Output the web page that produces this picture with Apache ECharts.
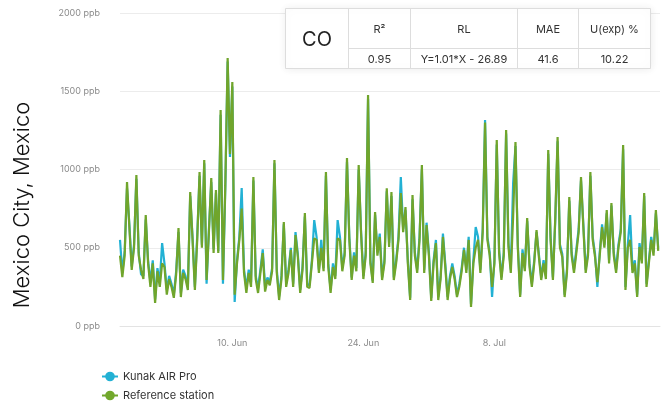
<!DOCTYPE html>
<html>
<head>
<meta charset="utf-8">
<script src="https://cdn.jsdelivr.net/npm/echarts@6/dist/echarts.min.js"></script>
<style>
html,body{margin:0;padding:0;background:#fff;}
#chart{width:663px;height:405px;}
</style>
</head>
<body>
<div id="chart"></div>
<script>
// ---- data ----
const startDate = Date.UTC(2023, 4, 29); // 29 May, first sample
const stepHours = 6;
const xTickDates = ['2023-06-10', '2023-06-24', '2023-07-08'];
const monthNames = ['Jan','Feb','Mar','Apr','May','Jun','Jul','Aug','Sep','Oct','Nov','Dec'];
const yTicks = [0, 500, 1000, 1500, 2000];
const seriesNames = ['Kunak AIR Pro', 'Reference station'];

const kunak = [
550,340,480,880,650,380,520,940,470,330,
320,680,420,280,420,170,370,280,530,400,
230,320,270,200,350,600,210,360,320,250,
830,570,250,580,960,520,1040,270,620,920,
490,850,480,1350,270,880,1690,1080,1530,153,
420,570,882,360,240,360,280,930,320,240,
360,490,250,310,280,370,1040,360,190,320,
650,270,360,500,270,600,460,230,380,700,
270,260,420,677,570,360,550,370,960,400,
230,400,320,677,570,370,470,1050,570,310,
470,370,1000,610,320,470,1450,420,290,710,
470,590,310,420,860,530,830,310,420,570,
952,620,740,420,180,810,470,360,570,1000,
360,660,470,180,420,550,185,320,590,400,
185,320,400,320,200,270,370,500,360,570,
140,420,632,570,360,620,1316,570,470,185,
420,1160,490,310,470,1230,530,360,913,1150,
520,200,490,370,670,400,270,420,600,460,
310,420,320,1100,570,310,670,1180,520,460,
200,360,800,470,360,490,620,930,650,360,
470,960,570,460,250,470,650,520,720,420,
770,470,360,520,620,1130,250,520,709,360,
420,200,530,420,830,270,420,570,470,720,
500
];

const reference = [
450,313,450,920,630,358,500,965,450,358,
300,709,400,250,400,147,350,250,400,377,
200,300,250,180,330,626,185,339,300,230,
856,550,230,550,984,500,1061,294,600,945,
466,869,466,1380,294,900,1712,1100,1559,200,
400,550,750,339,211,339,250,952,300,211,
339,466,220,294,260,350,1061,339,166,300,
664,250,339,486,250,581,441,211,358,722,
250,243,400,560,550,339,500,350,984,377,
211,377,300,560,550,350,450,1073,550,294,
450,350,1029,594,300,450,1476,400,275,728,
450,569,294,400,880,505,856,294,400,550,
850,600,760,400,166,837,450,339,550,1029,
339,645,450,160,400,530,166,300,569,377,
166,300,377,300,185,250,350,486,339,550,
121,400,500,550,339,600,1300,550,450,250,
400,1188,466,294,450,1252,505,339,700,1176,
500,185,466,350,690,377,250,400,613,441,
294,400,300,1125,550,294,690,1208,500,441,
185,339,824,450,339,466,600,952,632,339,
450,984,550,441,280,450,632,500,741,400,
786,450,339,500,600,1157,230,500,550,339,
400,185,505,400,850,250,400,550,450,741,
480
];

const tableHeaders = ['R\u00b2', 'RL', 'MAE', 'U(exp) %'];
const tableValues = ['0.95', 'Y=1.01*X - 26.89', '41.6', '10.22'];
const pollutant = 'CO';
const locationTitle = 'Mexico City, Mexico';

// ---- build ----
const stepMs = stepHours * 3600 * 1000;
const toPairs = arr => arr.map((v, i) => [startDate + i * stepMs, v]);
const dayMs = 86400000;
const xMin = startDate;
const xMax = startDate + 57.69 * dayMs;
const tickTimes = xTickDates.map(d => Date.parse(d + 'T00:00:00Z'));

const chart = echarts.init(document.getElementById('chart'), null, {renderer: 'canvas'});

// table geometry
const tX0 = 285.5, tY0 = 8.5, tX1 = 650.5, tYMid = 48.5, tY1 = 68.5;
const colX = [348.5, 410.5, 517.5, 578.5, 650.5];
const border = '#dddddd';
const tableEls = [
  {type: 'rect', shape: {x: tX0, y: tY0, width: tX1 - tX0, height: tY1 - tY0},
   style: {fill: '#fff', stroke: border, lineWidth: 1, shadowBlur: 8, shadowColor: 'rgba(0,0,0,0.08)'}, z: 10},
  {type: 'line', shape: {x1: colX[0], y1: tYMid, x2: tX1, y2: tYMid}, style: {stroke: border, lineWidth: 1}, z: 11}
];
for (let c = 0; c < 4; c++) {
  tableEls.push({type: 'line', shape: {x1: colX[c], y1: tY0, x2: colX[c], y2: tY1}, style: {stroke: border, lineWidth: 1}, z: 11});
  const cx = (colX[c] + colX[c + 1]) / 2;
  tableEls.push({type: 'text', x: cx, y: (tY0 + tYMid) / 2 + 1, z: 12,
    style: {text: tableHeaders[c], align: 'center', verticalAlign: 'middle', fontSize: 11, fontFamily: 'Inter', fill: '#333'}});
  tableEls.push({type: 'text', x: cx, y: (tYMid + tY1) / 2 + 1, z: 12,
    style: {text: tableValues[c], align: 'center', verticalAlign: 'middle', fontSize: 11, fontFamily: 'Inter', fill: '#333'}});
}
tableEls.push({type: 'text', x: (tX0 + colX[0]) / 2, y: (tY0 + tY1) / 2 + 1, z: 12,
  style: {text: pollutant, align: 'center', verticalAlign: 'middle', fontSize: 20, fontFamily: 'Inter', fill: '#222'}});

const option = {
  animation: false,
  backgroundColor: '#fff',
  textStyle: {fontFamily: 'Inter'},
  grid: {left: 120, right: 3, top: 13, bottom: 79, containLabel: false},
  xAxis: {
    type: 'value',
    min: xMin,
    max: xMax,
    axisLine: {show: true, lineStyle: {color: '#e3e3e3', width: 1}},
    axisTick: {show: false},
    splitLine: {show: false},
    axisLabel: {
      customValues: tickTimes,
      color: '#8a8a8a', fontSize: 9, margin: 13,
      formatter: v => { const d = new Date(v); return d.getUTCDate() + '. ' + monthNames[d.getUTCMonth()]; }
    }
  },
  yAxis: {
    type: 'value',
    min: yTicks[0], max: yTicks[yTicks.length - 1], interval: yTicks[1] - yTicks[0],
    axisLine: {show: false},
    axisTick: {show: false},
    splitLine: {lineStyle: {color: '#ececec', width: 1}},
    axisLabel: {color: '#8a8a8a', fontSize: 9, margin: 20, formatter: v => v + ' ppb'}
  },
  legend: {
    orient: 'vertical', left: 101, top: 371, padding: 0, itemGap: 8, itemWidth: 16, itemHeight: 12,
    textStyle: {fontSize: 11, color: '#333', fontFamily: 'Inter'},
    data: seriesNames
  },
  series: [
    {name: seriesNames[0], type: 'line', data: toPairs(kunak), symbol: 'circle', symbolSize: 6, showSymbol: false,
     lineStyle: {width: 2.2, color: '#22b1d4'}, itemStyle: {color: '#22b1d4'}, z: 2},
    {name: seriesNames[1], type: 'line', data: toPairs(reference), symbol: 'circle', symbolSize: 6, showSymbol: false,
     lineStyle: {width: 2.2, color: '#70a52c'}, itemStyle: {color: '#72a82c'}, z: 3}
  ],
  graphic: [
    {type: 'text', x: 22, y: 205, rotation: Math.PI / 2,
     style: {text: locationTitle, align: 'center', verticalAlign: 'middle', fontSize: 22, fontWeight: 300, fontFamily: 'Inter', fill: '#111'}},
    {type: 'group', children: tableEls}
  ]
};
chart.setOption(option);
</script>
</body>
</html>
